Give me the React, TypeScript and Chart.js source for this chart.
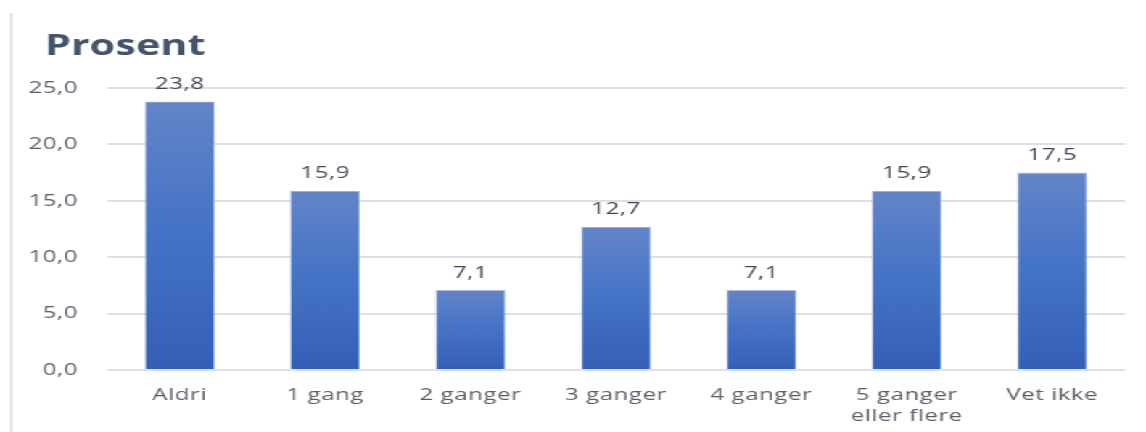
import React, { useEffect, useRef } from "react";
import { Chart, registerables } from "chart.js";

Chart.register(...registerables);

// Survey answers (percent) per category
const categories: (string | string[])[] = [
  "Aldri",
  "1 gang",
  "2 ganger",
  "3 ganger",
  "4 ganger",
  ["5 ganger", "eller flere"],
  "Vet ikke",
];
const values: number[] = [23.8, 15.9, 7.1, 12.7, 7.1, 15.9, 17.5];
const yTicks: number[] = [0, 5, 10, 15, 20, 25];
const titleText = "Prosent";

// The drawing surface is laid out narrow and widened with a horizontal stretch
const CANVAS_W = 790;
const CANVAS_H = 432;
const STRETCH = 1146 / CANVAS_W;

const fmt = (v: number) => v.toFixed(1).replace(".", ",");

const decorPlugin = {
  id: "decor",
  beforeDraw(chart: any) {
    const ctx = chart.ctx;
    ctx.save();
    ctx.fillStyle = "#ffffff";
    ctx.fillRect(0, 0, chart.width, chart.height);
    // frame line on the left edge
    ctx.fillStyle = "#dfe4ec";
    ctx.fillRect(6.8, 13, 2, chart.height - 13);
    // title
    ctx.fillStyle = "#44546a";
    ctx.font = "bold 28.5px 'Open Sans'";
    ctx.textAlign = "left";
    ctx.textBaseline = "alphabetic";
    ctx.fillText(titleText, 31, 55);
    ctx.restore();
    // slightly open letter spacing for axis and value labels
    ctx.letterSpacing = "0.4px";
  },
  afterDatasetsDraw(chart: any) {
    const ctx = chart.ctx;
    const meta = chart.getDatasetMeta(0);
    ctx.save();
    ctx.fillStyle = "#404853";
    ctx.font = "16.5px 'Open Sans'";
    ctx.textAlign = "center";
    ctx.textBaseline = "middle";
    meta.data.forEach((bar: any, i: number) => {
      ctx.fillText(fmt(values[i]), bar.x, bar.y - 17);
    });
    ctx.restore();
  },
  afterDraw(chart: any) {
    chart.ctx.letterSpacing = "0px";
  },
};

export default function App() {
  const canvasRef = useRef<HTMLCanvasElement | null>(null);

  useEffect(() => {
    document.body.style.margin = "0";
    const canvas = canvasRef.current;
    if (!canvas) return;
    const chart = new Chart(canvas, {
      type: "bar",
      data: {
        labels: categories,
        datasets: [
          {
            data: values,
            backgroundColor: (c: any) => {
              const ch = c.chart;
              const y = ch.scales?.y;
              if (!ch.chartArea || !y || c.parsed === undefined) return "#4a72c0";
              const top = y.getPixelForValue(c.parsed.y);
              const bottom = y.getPixelForValue(0);
              const g = ch.ctx.createLinearGradient(0, top, 0, bottom);
              g.addColorStop(0, "#6385c9");
              g.addColorStop(0.45, "#4674c6");
              g.addColorStop(1, "#3360b5");
              return g;
            },
            borderColor: "#a9bde6",
            borderWidth: 0.8,
            categoryPercentage: 0.48,
            barPercentage: 1,
          },
        ],
      },
      options: {
        responsive: false,
        animation: false,
        devicePixelRatio: 1,
        layout: { padding: { top: 88, right: 14.5, left: 0, bottom: 0 } },
        plugins: {
          legend: { display: false },
          tooltip: { enabled: false },
          title: { display: false },
        },
        scales: {
          x: {
            grid: { display: false },
            border: { display: false },
            ticks: {
              color: "#595f69",
              font: { family: "'Open Sans'", size: 16.5, lineHeight: 1.28 },
              padding: 7,
              maxRotation: 0,
              autoSkip: false,
            },
            afterFit: (s: any) => {
              s.height = 62;
            },
          },
          y: {
            min: 0,
            max: 25,
            afterBuildTicks: (s: any) => {
              s.ticks = yTicks.map((v) => ({ value: v }));
            },
            grid: { color: "#dde1e7", lineWidth: 2, drawTicks: false },
            border: { display: false },
            ticks: {
              color: "#595f69",
              font: { family: "'Open Sans'", size: 16.5 },
              padding: 20,
              callback: (v: any) => fmt(Number(v)),
            },
            afterFit: (s: any) => {
              s.width = 73.8;
            },
          },
        },
      },
      plugins: [decorPlugin],
    });
    return () => chart.destroy();
  }, []);

  return (
    <div
      style={{
        position: "fixed",
        left: 0,
        top: 0,
        width: CANVAS_W,
        height: CANVAS_H,
        transform: `scaleX(${STRETCH})`,
        transformOrigin: "0 0",
        background: "#fff",
      }}
    >
      <canvas
        ref={canvasRef}
        width={CANVAS_W}
        height={CANVAS_H}
        style={{ width: CANVAS_W, height: CANVAS_H, display: "block" }}
      />
    </div>
  );
}
